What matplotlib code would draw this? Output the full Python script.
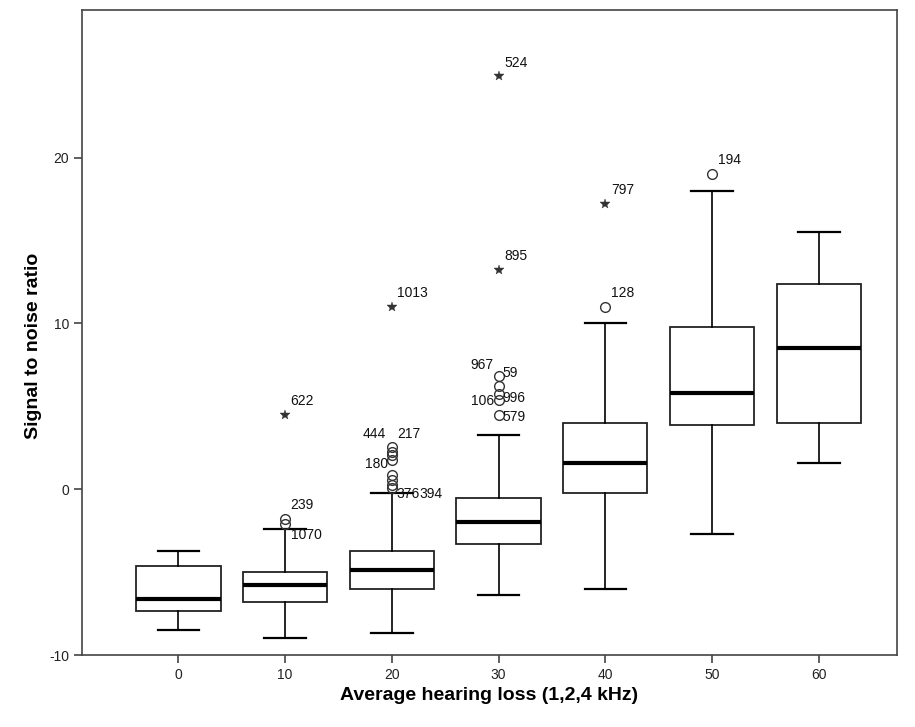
import matplotlib
matplotlib.use('Agg')
import matplotlib.pyplot as plt

plt.rcParams['font.family'] = ['Liberation Sans Narrow', 'Liberation Sans', 'DejaVu Sans']
plt.rcParams['axes.unicode_minus'] = False

# group labels (average hearing loss, dB)
groups = ["0", "10", "20", "30", "40", "50", "60"]

# box statistics
whisker_lo = [-8.5, -9.0, -8.7, -6.4, -6.0, -2.7, 1.6]
q1 = [-7.33, -6.8, -6.0, -3.3, -0.25, 3.9, 4.0]
medians = [-6.6, -5.8, -4.9, -2.0, 1.6, 5.8, 8.5]
q3 = [-4.64, -5.0, -3.7, -0.5, 4.0, 9.8, 12.4]
whisker_hi = [-3.7, -2.4, -0.25, 3.3, 10.0, 18.0, 15.5]

# outliers: (group index, value)
circle_grp = [1, 1, 2, 2, 2, 2, 2, 2, 2, 2, 3, 3, 3, 3, 3, 4, 5]
circle_val = [-1.8, -2.1, 2.55, 2.25, 2.05, 1.75, 0.85, 0.55, 0.25, 0.05,
              6.85, 6.25, 5.75, 5.4, 4.5, 11.0, 19.0]
star_grp = [1, 2, 3, 3, 4]
star_val = [4.5, 11.0, 13.2, 24.9, 17.2]

# case labels: (text, group index, value)
label_text = ["622", "239", "1070", "1013", "444", "217", "180", "376", "394",
              "524", "895", "967", "59", "106", "996", "579", "797", "128", "194"]
label_grp = [1, 1, 1, 2, 2, 2, 2, 2, 2, 3, 3, 3, 3, 3, 3, 3, 4, 4, 5]
label_val = [4.5, -1.8, -2.1, 11.0, 2.55, 2.55, 1.75, 0.05, 0.05,
             24.9, 13.2, 6.85, 6.85, 5.4, 5.4, 4.5, 17.2, 11.0, 19.0]

# text placement relative to the marker (points, ha, va)
label_style = {
    "622": (4, 5, "left", "bottom"), "239": (4, 5, "left", "bottom"),
    "1070": (4, -3, "left", "top"), "1013": (4, 5, "left", "bottom"),
    "444": (-4, 4, "right", "bottom"), "217": (4, 4, "left", "bottom"),
    "180": (-3, -3, "right", "center"), "376": (3, -4, "left", "center"),
    "394": (20, -4, "left", "center"), "524": (4, 5, "left", "bottom"),
    "895": (4, 5, "left", "bottom"), "967": (-4, 3, "right", "bottom"),
    "59": (3, 2, "left", "center"), "106": (-3, -1, "right", "center"),
    "996": (3, 1, "left", "center"), "579": (3, -2, "left", "center"),
    "797": (4, 5, "left", "bottom"), "128": (4, 5, "left", "bottom"),
    "194": (4, 5, "left", "bottom"),
}

line_col = "#222222"

fig = plt.figure(figsize=(9.15, 7.27), dpi=100, facecolor="white")
ax = fig.add_axes([0.090, 0.099, 0.890, 0.887])

stats = []
for i in range(len(groups)):
    stats.append({
        "whislo": whisker_lo[i], "q1": q1[i], "med": medians[i],
        "q3": q3[i], "whishi": whisker_hi[i], "fliers": [],
    })

ax.bxp(stats, positions=range(len(groups)), widths=0.79, patch_artist=True,
       showfliers=False,
       boxprops=dict(facecolor="white", edgecolor=line_col, linewidth=1.3),
       medianprops=dict(color="black", linewidth=3),
       whiskerprops=dict(color="black", linewidth=1.2),
       capprops=dict(color="black", linewidth=1.6),
       capwidths=0.39)

ax.plot(circle_grp, circle_val, linestyle="none", marker="o", markersize=7,
        markerfacecolor="none", markeredgecolor="#333333", markeredgewidth=1.0)
ax.plot(star_grp, star_val, linestyle="none", marker="*", markersize=7,
        markerfacecolor="#333333", markeredgecolor="#333333", markeredgewidth=0.3)

for txt, g, v in zip(label_text, label_grp, label_val):
    dx, dy, ha, va = label_style[txt]
    ax.annotate(txt, (g, v), xytext=(dx, dy), textcoords="offset points",
                ha=ha, va=va, fontsize=10, color="#111111")

ax.set_xlim(-0.9, 6.73)
ax.set_ylim(-10, 28.9)
ax.set_xticks(range(len(groups)))
ax.set_xticklabels(groups)
ax.set_yticks([-10, 0, 10, 20])

for spine in ax.spines.values():
    spine.set_color("#444444")
    spine.set_linewidth(1.2)

ax.tick_params(direction="out", length=6, width=1.2, color="#444444",
               labelsize=10, labelcolor="#222222")

ax.set_xlabel("Average hearing loss (1,2,4 kHz)", fontsize=14, fontweight="bold",
              va="center", ha="center")
ax.set_ylabel("Signal to noise ratio", fontsize=14, fontweight="bold",
              va="center", ha="center")
ax.xaxis.set_label_coords(0.5, -0.062)
ax.yaxis.set_label_coords(-0.060, 0.48)

fig.savefig("out.png", dpi=100, facecolor="white")
